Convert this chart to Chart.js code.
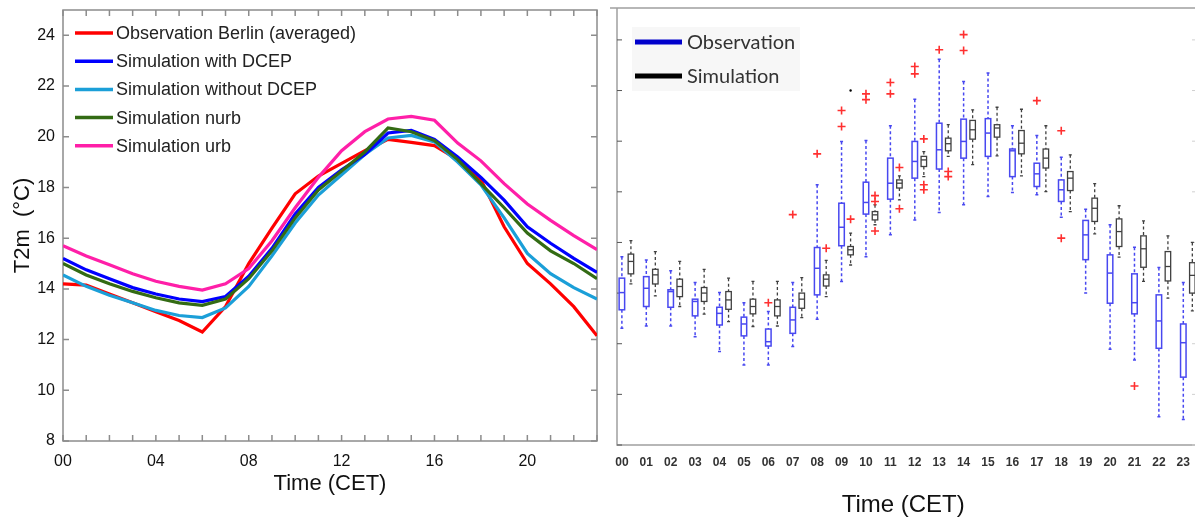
<!DOCTYPE html>
<html lang="en">
<head>
    <meta charset="UTF-8">
    <title>T2m diurnal cycle Berlin</title>
    <script src="https://cdn.jsdelivr.net/npm/chart.js"></script>
    <style>
        body { margin: 0; background: #fff; }
        #wrap { position: relative; width: 1195px; height: 520px; }
        #leftChart { position: absolute; left: 0; top: 0; }
        #rightChart { position: absolute; left: 605px; top: 0; }
    </style>
</head>
<body>
<div id="wrap">
    <canvas id="leftChart" width="605" height="520"></canvas>
    <canvas id="rightChart" width="590" height="520"></canvas>
</div>

<script>
    // ---- left panel: hourly means ----
    const hours = [0,1,2,3,4,5,6,7,8,9,10,11,12,13,14,15,16,17,18,19,20,21,22,23];
    const leftTickHours = [0, 4, 8, 12, 16, 20];
    const leftTickLabels = ['00', '04', '08', '12', '16', '20'];

    const obsBerlin  = [14.2, 14.15, 13.8, 13.45, 13.1, 12.75, 12.3, 13.3, 15.0, 16.4, 17.75, 18.45, 18.95, 19.45, 19.9, 19.78, 19.65, 19.1, 18.3, 16.45, 15.0, 14.2, 13.3, 12.15];
    const simDcep    = [15.2, 14.75, 14.4, 14.05, 13.8, 13.6, 13.5, 13.7, 14.5, 15.6, 16.95, 18.0, 18.7, 19.3, 20.15, 20.25, 19.9, 19.2, 18.4, 17.5, 16.45, 15.8, 15.2, 14.65];
    const simNoDcep  = [14.55, 14.1, 13.75, 13.45, 13.15, 12.95, 12.87, 13.25, 14.1, 15.3, 16.6, 17.7, 18.5, 19.3, 19.95, 20.05, 19.8, 19.0, 18.1, 16.8, 15.4, 14.6, 14.05, 13.6];
    const simNurb    = [15.0, 14.55, 14.2, 13.9, 13.65, 13.45, 13.35, 13.6, 14.4, 15.5, 16.8, 17.9, 18.65, 19.4, 20.35, 20.2, 19.85, 19.1, 18.15, 17.2, 16.2, 15.5, 15.0, 14.4];
    const simUrb     = [15.7, 15.3, 14.95, 14.6, 14.3, 14.1, 13.95, 14.2, 14.8, 15.9, 17.2, 18.4, 19.45, 20.2, 20.7, 20.8, 20.65, 19.75, 19.05, 18.15, 17.35, 16.7, 16.1, 15.55];

    // ---- right panel: box plots per hour ----
    const hourLabels = ['00','01','02','03','04','05','06','07','08','09','10','11','12','13','14','15','16','17','18','19','20','21','22','23'];

    const obsLow  = [12.61, 12.70, 12.70, 12.28, 11.69, 11.16, 11.16, 11.89, 12.97, 14.46, 15.44, 16.30, 16.89, 17.18, 17.49, 17.81, 17.97, 17.88, 17.00, 14.00, 11.78, 11.36, 9.12, 9.01];
    const obsQ1   = [13.34, 13.47, 13.44, 13.10, 12.74, 12.31, 11.91, 12.41, 13.93, 15.87, 17.12, 17.71, 18.54, 18.90, 19.33, 19.40, 18.60, 18.21, 17.62, 15.32, 13.60, 13.18, 11.82, 10.68];
    const obsMed  = [14.02, 14.19, 14.06, 13.67, 13.20, 12.78, 12.08, 12.94, 14.98, 16.60, 17.58, 18.34, 19.20, 19.66, 19.99, 20.32, 19.62, 18.71, 18.08, 16.30, 14.79, 13.62, 12.90, 12.04];
    const obsQ3   = [14.59, 14.65, 14.13, 13.76, 13.44, 13.05, 12.58, 13.44, 15.80, 17.55, 18.38, 19.33, 19.99, 20.71, 20.87, 20.89, 19.69, 19.13, 18.47, 16.87, 15.51, 14.76, 13.93, 12.78];
    const obsHigh = [15.44, 15.31, 14.88, 14.42, 14.02, 13.62, 13.27, 14.42, 18.28, 19.99, 20.03, 20.61, 21.66, 23.24, 22.36, 22.69, 20.61, 20.22, 19.37, 17.31, 16.70, 15.81, 15.01, 14.42];

    const simLow  = [14.36, 13.89, 13.47, 13.17, 12.87, 12.68, 12.70, 13.03, 13.86, 15.11, 16.70, 17.68, 18.60, 19.40, 19.07, 19.42, 18.63, 18.01, 17.22, 16.34, 15.42, 14.46, 13.80, 13.30];
    const simQ1   = [14.76, 14.36, 13.86, 13.67, 13.36, 13.18, 13.10, 13.40, 14.28, 15.51, 16.89, 18.15, 19.00, 19.62, 20.08, 20.16, 19.50, 18.94, 18.05, 16.83, 15.84, 15.02, 14.48, 14.00];
    const simMed  = [15.25, 14.72, 14.26, 14.00, 13.73, 13.47, 13.47, 13.76, 14.55, 15.71, 17.09, 18.34, 19.26, 19.90, 20.45, 20.52, 19.92, 19.33, 18.54, 17.35, 16.43, 15.75, 15.05, 14.70];
    const simQ3   = [15.54, 14.94, 14.55, 14.22, 14.06, 13.76, 13.73, 14.00, 14.72, 15.84, 17.22, 18.47, 19.40, 20.12, 20.82, 20.65, 20.42, 19.69, 18.80, 17.75, 16.93, 16.26, 15.64, 15.20];
    const simHigh = [16.07, 15.64, 15.25, 14.94, 14.59, 14.46, 14.46, 14.61, 15.29, 16.37, 17.49, 18.63, 19.59, 20.65, 21.24, 21.34, 21.26, 20.61, 19.46, 18.32, 17.45, 16.85, 16.26, 16.00];

    const obsOutHour = [6, 7, 8, 9, 9, 10, 10, 11, 11, 12, 12, 13, 14, 14, 17, 18, 18, 21];
    const obsOutVal  = [13.62, 17.1, 19.5, 21.21, 20.58, 21.87, 21.64, 22.32, 21.87, 22.95, 22.66, 23.61, 24.21, 23.58, 21.6, 20.41, 16.17, 10.33];
    const simOutHour = [8, 9, 10, 10, 10, 11, 11, 12, 12, 12, 13, 13];
    const simOutVal  = [15.77, 16.92, 17.85, 17.62, 16.45, 18.96, 17.33, 20.09, 18.28, 18.08, 18.8, 18.6];
    const simDotHour = [9];
    const simDotVal  = [22.0];

    const simShift = 0.37;   // simulation box sits right of the observation box

    Chart.defaults.font.family = '"Liberation Sans", Arial, sans-serif';
    Chart.defaults.color = '#111';

    // frame, inward ticks and legend of the left panel
    const leftFrame = {
        id: 'leftFrame',
        beforeDatasetsDraw(chart) {
            const {ctx, chartArea: a, scales: {x, y}} = chart;
            ctx.save();
            ctx.strokeStyle = '#8c8c8c';
            ctx.lineWidth = 1.5;
            ctx.strokeRect(a.left, a.top, a.right - a.left, a.bottom - a.top);
            ctx.beginPath();
            x.ticks.forEach(t => {
                const px = x.getPixelForValue(t.value);
                ctx.moveTo(px, a.bottom); ctx.lineTo(px, a.bottom - 6);
                ctx.moveTo(px, a.top); ctx.lineTo(px, a.top + 6);
            });
            y.ticks.forEach(t => {
                const py = y.getPixelForValue(t.value);
                ctx.moveTo(a.left, py); ctx.lineTo(a.left + 6, py);
                ctx.moveTo(a.right, py); ctx.lineTo(a.right - 6, py);
            });
            ctx.stroke();
            ctx.restore();
        },
        afterDatasetsDraw(chart) {
            const {ctx, chartArea: a} = chart;
            ctx.save();
            ctx.font = '18px "Liberation Sans", Arial, sans-serif';
            ctx.textBaseline = 'middle';
            chart.data.datasets.forEach((ds, i) => {
                const yy = a.top + 23 + i * 28.2;
                ctx.strokeStyle = ds.borderColor;
                ctx.lineWidth = 3.5;
                ctx.beginPath();
                ctx.moveTo(a.left + 12, yy);
                ctx.lineTo(a.left + 50, yy);
                ctx.stroke();
                ctx.fillStyle = '#222';
                ctx.fillText(ds.label, a.left + 53, yy + 1);
            });
            ctx.restore();
        }
    };

    const pts = vals => hours.map((h, i) => ({x: h, y: vals[i]}));

    new Chart(document.getElementById('leftChart'), {
        type: 'line',
        data: {
            datasets: [
                {label: 'Observation Berlin (averaged)', data: pts(obsBerlin), borderColor: '#ff0000', order: 4},
                {label: 'Simulation with DCEP', data: pts(simDcep), borderColor: '#0000ff', order: 2},
                {label: 'Simulation without DCEP', data: pts(simNoDcep), borderColor: '#1b9fd8', order: 3},
                {label: 'Simulation nurb', data: pts(simNurb), borderColor: '#336b14', order: 1},
                {label: 'Simulation urb', data: pts(simUrb), borderColor: '#ff1fa8', order: 0}
            ]
        },
        options: {
            responsive: false,
            animation: false,
            layout: {padding: {top: 10, right: 8, left: 0, bottom: 0}},
            elements: {
                line: {borderWidth: 3.2, tension: 0},
                point: {radius: 0}
            },
            plugins: {legend: {display: false}, tooltip: {enabled: false}},
            scales: {
                x: {
                    type: 'linear',
                    min: 0,
                    max: 23,
                    afterFit(scale) { scale.height = 79; scale.paddingLeft = 0; scale.paddingRight = 0; },
                    grid: {display: false, drawTicks: false},
                    border: {display: false},
                    ticks: {
                        stepSize: 1,
                        autoSkip: false,
                        maxRotation: 0,
                        padding: 11,
                        font: {size: 16},
                        callback: v => {
                            const k = leftTickHours.indexOf(v);
                            return k >= 0 ? leftTickLabels[k] : '';
                        }
                    },
                    title: {display: true, text: 'Time (CET)', font: {size: 22}, padding: {top: 0, bottom: 23}}
                },
                y: {
                    min: 8,
                    max: 25,
                    afterFit(scale) { scale.width = 63; scale.paddingTop = 0; scale.paddingBottom = 0; },
                    grid: {display: false, drawTicks: false},
                    border: {display: false},
                    ticks: {stepSize: 2, includeBounds: false, padding: 8, font: {size: 16}},
                    title: {display: true, text: 'T2m  (°C)', font: {size: 22}, padding: {top: 10, bottom: 0}}
                }
            }
        },
        plugins: [leftFrame]
    });

    // box plots, frame and legend of the right panel
    function drawBox(ctx, xs, ys, h, lo, q1, md, q3, hi, color, lw) {
        const px = xs.getPixelForValue(h);
        const w = 5.5;
        const yLo = ys.getPixelForValue(lo), yQ1 = ys.getPixelForValue(q1);
        const yMd = ys.getPixelForValue(md), yQ3 = ys.getPixelForValue(q3);
        const yHi = ys.getPixelForValue(hi);
        ctx.strokeStyle = color;
        ctx.lineWidth = lw;
        ctx.setLineDash([3, 2.5]);
        ctx.beginPath();
        ctx.moveTo(px, yHi); ctx.lineTo(px, yQ3);
        ctx.moveTo(px, yQ1); ctx.lineTo(px, yLo);
        ctx.stroke();
        ctx.setLineDash([]);
        ctx.beginPath();
        ctx.moveTo(px - 1.5, yHi); ctx.lineTo(px + 1.5, yHi);
        ctx.moveTo(px - 1.5, yLo); ctx.lineTo(px + 1.5, yLo);
        ctx.stroke();
        ctx.fillStyle = '#fff';
        ctx.fillRect(px - w / 2, yQ3, w, yQ1 - yQ3);
        ctx.strokeRect(px - w / 2, yQ3, w, yQ1 - yQ3);
        ctx.beginPath();
        ctx.moveTo(px - w / 2, yMd); ctx.lineTo(px + w / 2, yMd);
        ctx.stroke();
    }

    const rightBoxes = {
        id: 'rightBoxes',
        beforeDatasetsDraw(chart) {
            const {ctx, chartArea: a, scales: {x, y}} = chart;
            ctx.save();
            // frame: top, left and bottom lines (right edge falls outside the picture)
            ctx.strokeStyle = '#a0a0a0';
            ctx.lineWidth = 1.5;
            ctx.beginPath();
            ctx.moveTo(a.left - 7, a.top); ctx.lineTo(chart.width, a.top);
            ctx.moveTo(a.left, a.top); ctx.lineTo(a.left, a.bottom);
            ctx.lineTo(chart.width, a.bottom);
            ctx.stroke();
            ctx.strokeStyle = '#555';
            ctx.lineWidth = 1;
            ctx.beginPath();
            y.ticks.forEach(t => {
                const py = y.getPixelForValue(t.value);
                ctx.moveTo(a.left, py); ctx.lineTo(a.left + 5, py);
            });
            ctx.stroke();
            ctx.strokeStyle = '#d0d0d0';
            ctx.beginPath();
            y.ticks.forEach(t => {
                const py = y.getPixelForValue(t.value);
                ctx.moveTo(chart.width - 3, py); ctx.lineTo(chart.width, py);
            });
            ctx.stroke();

            hours.forEach((h, i) => {
                drawBox(ctx, x, y, h, obsLow[i], obsQ1[i], obsMed[i], obsQ3[i], obsHigh[i], '#4848f0', 1.5);
                drawBox(ctx, x, y, h + simShift, simLow[i], simQ1[i], simMed[i], simQ3[i], simHigh[i], '#404040', 1.3);
            });
            ctx.restore();
        },
        afterDatasetsDraw(chart) {
            const {ctx, chartArea: a} = chart;
            ctx.save();
            ctx.fillStyle = 'rgba(238,238,238,0.45)';
            ctx.fillRect(a.left + 15, a.top + 19, 168, 64);
            const rows = [['Observation', '#0000cc', a.top + 34], ['Simulation', '#000000', a.top + 68]];
            ctx.font = '20px Lato, "Open Sans", sans-serif';
            ctx.textBaseline = 'middle';
            rows.forEach(([txt, col, yy]) => {
                ctx.strokeStyle = col;
                ctx.lineWidth = 5;
                ctx.beginPath();
                ctx.moveTo(a.left + 18, yy);
                ctx.lineTo(a.left + 65, yy);
                ctx.stroke();
                ctx.fillStyle = '#333';
                ctx.fillText(txt, a.left + 70, yy + 1);
            });
            ctx.restore();
        }
    };

    const scat = (hs, vs, shift) => hs.map((h, i) => ({x: h + shift, y: vs[i]}));

    new Chart(document.getElementById('rightChart'), {
        type: 'scatter',
        data: {
            datasets: [
                {label: 'Observation outliers', data: scat(obsOutHour, obsOutVal, 0),
                    pointStyle: 'cross', radius: 4, borderColor: '#ff3030', borderWidth: 1.6},
                {label: 'Simulation outliers', data: scat(simOutHour, simOutVal, simShift),
                    pointStyle: 'cross', radius: 4, borderColor: '#ff3030', borderWidth: 1.6},
                {label: 'Simulation extreme', data: scat(simDotHour, simDotVal, simShift),
                    pointStyle: 'circle', radius: 1.2, backgroundColor: '#000', borderColor: '#000', borderWidth: 0}
            ]
        },
        options: {
            responsive: false,
            animation: false,
            layout: {padding: {top: 8, right: 0, left: 0, bottom: 0}},
            plugins: {legend: {display: false}, tooltip: {enabled: false}},
            scales: {
                x: {
                    type: 'linear',
                    min: -0.2,
                    max: 23.25,
                    afterFit(scale) { scale.height = 75; scale.paddingLeft = 0; scale.paddingRight = 0; },
                    grid: {display: false, drawTicks: false},
                    border: {display: false},
                    ticks: {
                        stepSize: 1,
                        includeBounds: false,
                        autoSkip: false,
                        maxRotation: 0,
                        padding: 10,
                        color: '#333',
                        font: {size: 12, weight: 'bold'},
                        callback: v => hourLabels[v] ?? ''
                    },
                    title: {display: true, text: 'Time (CET)', font: {size: 24}, padding: {top: 0, bottom: 0}}
                },
                y: {
                    min: 8,
                    max: 25.26,
                    afterFit(scale) { scale.width = 12; scale.paddingTop = 0; scale.paddingBottom = 0; },
                    grid: {display: false, drawTicks: false},
                    border: {display: false},
                    ticks: {display: false, stepSize: 2, includeBounds: false}
                }
            }
        },
        plugins: [rightBoxes]
    });
</script>
</body>
</html>
